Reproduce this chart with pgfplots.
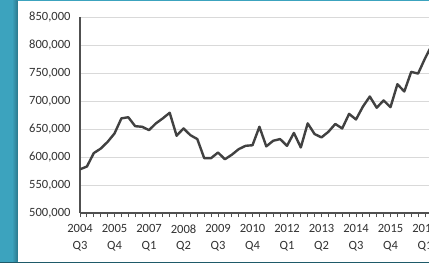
\documentclass[border=0pt]{standalone}
\usepackage{fontspec}
\setmainfont{Carlito}
\usepackage{pgfplots}
\pgfplotsset{compat=1.18}
\definecolor{tealbg}{RGB}{60,163,190}
\definecolor{darkteal}{RGB}{30,90,105}
\definecolor{axisgray}{RGB}{80,80,80}
\definecolor{gridgray}{RGB}{217,217,217}
\definecolor{labelgray}{RGB}{50,50,50}
\definecolor{linegray}{RGB}{65,65,65}
\begin{document}
\begin{tikzpicture}[x=1bp,y=1bp]
\useasboundingbox (0,0) rectangle (429,263);
\clip (0,0) rectangle (429,263);
\fill[tealbg] (0,0) rectangle (429,263);
\shade[left color=tealbg, right color=tealbg!75!black] (12,1.5) rectangle (17.5,262);
\fill[white] (17.5,1.5) rectangle (429,262);
\fill[darkteal] (0,0) rectangle (429,1.3);
\begin{axis}[
  at={(80bp,50bp)}, anchor=south west,
  scale only axis, width=349bp, height=196bp,
  xmin=0, xmax=50.58, ymin=500000, ymax=850000,
  scaled y ticks=false,
  axis lines=left,
  axis line style={-, draw=axisgray, line width=1.3bp},
  ytick={500000,550000,600000,650000,700000,750000,800000,850000},
  yticklabels={{500,000},{550,000},{600,000},{650,000},{700,000},{750,000},{800,000},{850,000}},
  ymajorgrids,
  grid style={draw=gridgray, line width=1bp},
  y tick style={draw=none},
  yticklabel style={font=\fontsize{12.6}{14}\selectfont, text=labelgray, xshift=-2bp},
  xtick={0,5,10,15,20,25,30,35,40,45,50},
  xticklabels={{2004\\Q3},{2005\\Q4},{2007\\Q1},{2008\\Q2},{2009\\Q3},{2010\\Q4},{2012\\Q1},{2013\\Q2},{2014\\Q3},{2015\\Q4},{2017\\Q1}},
  xticklabel style={align=center, font=\fontsize{12.6}{16.5}\selectfont, text=labelgray, yshift=-4bp},
  minor xtick={0,1,...,51},
  tick align=outside,
  major tick length=4bp, minor tick length=4bp,
  x tick style={draw=axisgray, line width=0.9bp},
  clip=true,
]
\addplot[linegray, line width=2.4bp, line join=round, mark=none] coordinates {
(0,578000) (1,583000) (2,607000) (3,615000) (4,627000) (5,642000)
(6,669000) (7,671000) (8,655000) (9,654000) (10,648000) (11,660000)
(12,669000) (13,679000) (14,638000) (15,651000) (16,639000) (17,632000)
(18,598000) (19,598000) (20,608000) (21,596000) (22,604000) (23,614000)
(24,620000) (25,621000) (26,654000) (27,619000) (28,629000) (29,632000)
(30,620000) (31,643000) (32,617000) (33,660000) (34,641000) (35,635000)
(36,645000) (37,659000) (38,651000) (39,677000) (40,667000) (41,690000)
(42,708000) (43,688000) (44,701000) (45,689000) (46,730000) (47,717000)
(48,752000) (49,749000) (50,776000) (51,800000)
};
\end{axis}
\end{tikzpicture}
\end{document}
